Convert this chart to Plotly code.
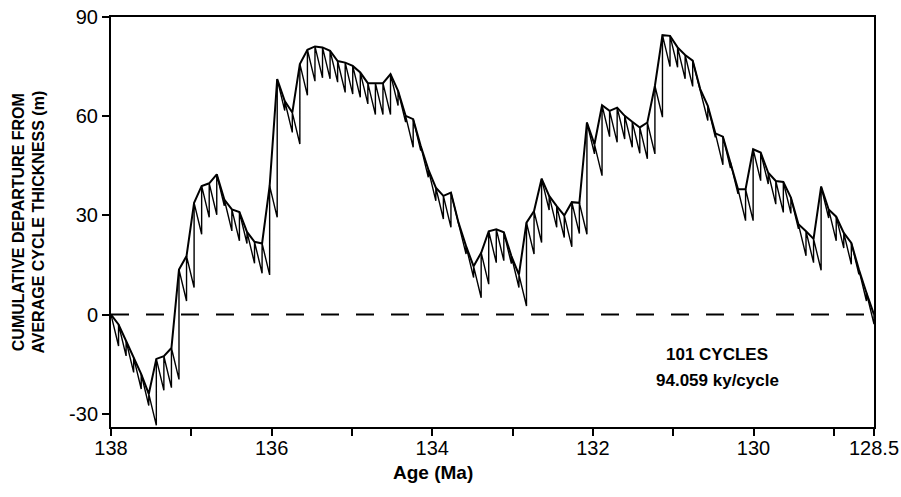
import plotly.graph_objects as go

# ---------------- data ----------------
N_CYCLES = 101
KY_PER_CYCLE = 94.059
START_AGE = 138.0
END_AGE = 128.5
AVG_THICKNESS = 9.5  # m, drop of each saw-tooth (average cycle thickness)

# cumulative departure from average cycle thickness (m) at the top of each cycle
departure = [
    0, -3, -8, -13, -18, -24, -13.4, -12.6, -10.1, 13.6,
    17.7, 33.8, 38.9, 39.7, 42.4, 34.8, 31.8, 31, 25, 22,
    21.5, 38.9, 71.2, 64.6, 61.1, 75.8, 80.1, 81.1, 80.8, 79.8,
    76.7, 76.2, 75.2, 73.2, 70, 70, 70, 72.7, 67.7, 60.1,
    59.1, 51, 43.9, 38.4, 35.9, 36.9, 27.8, 20.7, 14.6, 18.7,
    25.2, 25.8, 24.9, 17.7, 12.1, 27.8, 31.3, 41.1, 35.9, 32.8,
    30, 34, 33.8, 58.1, 51.5, 63.3, 61.6, 62.6, 60.1, 58.3,
    56.6, 58.1, 69.2, 84.5, 84.3, 80.8, 78.5, 76.8, 68.2, 63.1,
    54.8, 53.8, 46, 37.9, 37.9, 50, 49, 42.9, 40.4, 40.1,
    35.4, 27.3, 25.2, 22.9, 38.7, 31.8, 29.6, 24.7, 21.7, 13.6,
    6.6, 0,
]

xtick_vals = [138, 137, 136, 135, 134, 133, 132, 131, 130, 129, 128.5]
xtick_text = ["138", "", "136", "", "134", "", "132", "", "130", "", "128.5"]
ytick_vals = [-30, 0, 30, 60, 90]
ytick_text = ["-30", "0", "30", "60", "90"]

# ---------------- build Fischer-plot geometry ----------------
ages = [START_AGE - i * KY_PER_CYCLE / 1000.0 for i in range(len(departure))]

saw_x = [ages[0]]
saw_y = [departure[0]]
for i in range(1, len(departure)):
    saw_x += [ages[i], ages[i]]
    saw_y += [departure[i - 1] - AVG_THICKNESS, departure[i]]

FONT = "Liberation Sans, Arial, Helvetica, sans-serif"

fig = go.Figure()
fig.add_trace(go.Scatter(x=saw_x, y=saw_y, mode="lines",
                         line=dict(color="black", width=1.4),
                         hoverinfo="skip", showlegend=False))
fig.add_trace(go.Scatter(x=ages, y=departure, mode="lines",
                         line=dict(color="black", width=2),
                         showlegend=False))

fig.add_shape(type="line", xref="paper", yref="y", x0=0, x1=1, y0=0, y1=0,
              line=dict(color="black", width=2, dash="18px,17px"))

fig.update_xaxes(range=[START_AGE, END_AGE], autorange=False, automargin=False,
                 tickmode="array", tickvals=xtick_vals, ticktext=xtick_text,
                 ticks="outside", ticklen=7, tickwidth=1.5, tickcolor="black",
                 ticklabeloverflow="allow", ticklabelstandoff=-5,
                 showline=True, linecolor="black", linewidth=2, mirror=True,
                 showgrid=False, zeroline=False,
                 tickfont=dict(family=FONT, size=20, color="black"))
fig.update_yaxes(range=[-34, 90], autorange=False, automargin=False,
                 tickmode="array", tickvals=ytick_vals, ticktext=ytick_text,
                 ticks="outside", ticklen=7, tickwidth=1.5, tickcolor="black",
                 ticklabeloverflow="allow",
                 showline=True, linecolor="black", linewidth=2, mirror=True,
                 showgrid=False, zeroline=False,
                 tickfont=dict(family=FONT, size=20, color="black"))

fig.add_annotation(text="<b>CUMULATIVE DEPARTURE FROM<br>AVERAGE CYCLE THICKNESS (m)</b>",
                   xref="paper", yref="paper", x=-0.108, y=0.5,
                   xanchor="center", yanchor="middle", textangle=-90,
                   showarrow=False, font=dict(family=FONT, size=16, color="black"))
fig.add_annotation(text="<b>Age (Ma)</b>", xref="paper", yref="paper",
                   x=(433 - 111) / 763, y=-0.11, xanchor="center", yanchor="middle",
                   showarrow=False, font=dict(family=FONT, size=19, color="black"))
fig.add_annotation(text="<b>101 CYCLES</b>", xref="x", yref="y",
                   x=130.45, y=-12.1, xanchor="center", yanchor="middle",
                   showarrow=False, font=dict(family=FONT, size=17, color="black"))
fig.add_annotation(text="<b>94.059 ky/cycle</b>", xref="x", yref="y",
                   x=130.45, y=-20.0, xanchor="center", yanchor="middle",
                   showarrow=False, font=dict(family=FONT, size=17, color="black"))

fig.update_layout(width=901, height=497,
                  margin=dict(l=111, r=27, t=17, b=70),
                  paper_bgcolor="white", plot_bgcolor="white",
                  font=dict(family=FONT, color="black"))

# remove the browser's default 8px body margin so the figure fills the window
fig.write_html("out.html",
               config={"displayModeBar": False},
               post_script="document.body.style.margin='0';document.body.style.overflow='hidden';")
